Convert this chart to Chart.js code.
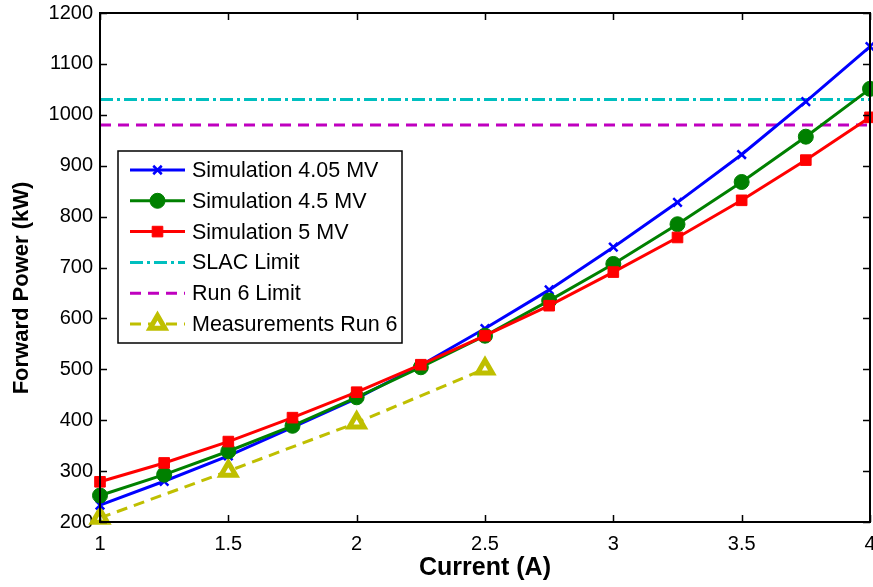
<!DOCTYPE html>
<html>
<head>
<meta charset="utf-8">
<script src="https://cdn.jsdelivr.net/npm/chart.js@4/dist/chart.umd.min.js"></script>
<style>
  html, body { margin: 0; padding: 0; background: #fff; }
  #wrap { width: 873px; height: 587px; }
</style>
</head>
<body>
<div id="wrap"><canvas id="powerChart" width="873" height="587"></canvas></div>
<script>
// beam current (A)
var current = [1, 1.25, 1.5, 1.75, 2, 2.25, 2.5, 2.75, 3, 3.25, 3.5, 3.75, 4];
// forward power (kW) for each cavity voltage
var sim405 = [233, 280, 330, 386, 443, 508, 580, 656, 740, 828, 922, 1026, 1134];
var sim45 = [252, 293, 339, 389, 445, 504, 566, 635, 707, 785, 868, 957, 1051];
var sim5 = [279, 316, 358, 405, 455, 509, 566, 625, 691, 759, 832, 911, 995];
// measured points
var measCurrent = [1, 1.5, 2, 2.5];
var measPower = [208, 300, 395, 501];
// limits (kW)
var slacLimit = 1030;
var run6Limit = 980;
var limitRange = [1, 4];

var xTicks = [1, 1.5, 2, 2.5, 3, 3.5, 4];
var yTicks = [200, 300, 400, 500, 600, 700, 800, 900, 1000, 1100, 1200];
var yTitle = "Forward Power (kW)";

var FONT = "'Liberation Sans', Arial, Helvetica, sans-serif";

function pts(xs, ys) {
  return xs.map(function (x, i) { return { x: x, y: ys[i] }; });
}

// inward tick marks and the box around the plot, matlab style
var boxPlugin = {
  id: "box",
  afterDatasetsDraw: function (chart) {
    var ctx = chart.ctx, a = chart.chartArea;
    var xs = chart.scales.x, ys = chart.scales.y;
    var len = 7;
    ctx.save();
    ctx.strokeStyle = "#000";
    ctx.lineWidth = 1.5;
    ctx.beginPath();
    xTicks.forEach(function (t) {
      var px = Math.round(xs.getPixelForValue(t)) + 0.5;
      ctx.moveTo(px, a.bottom); ctx.lineTo(px, a.bottom - len);
      ctx.moveTo(px, a.top); ctx.lineTo(px, a.top + len);
    });
    yTicks.forEach(function (t) {
      var py = Math.round(ys.getPixelForValue(t)) + 0.5;
      ctx.moveTo(a.left, py); ctx.lineTo(a.left + len, py);
      ctx.moveTo(a.right, py); ctx.lineTo(a.right - len, py);
    });
    ctx.stroke();
    ctx.lineWidth = 2;
    ctx.strokeRect(a.left, a.top, a.right - a.left, a.bottom - a.top);

    // rotated y title, sitting a little below the middle of the axis
    ctx.translate(22, a.top + 275);
    ctx.rotate(-Math.PI / 2);
    ctx.fillStyle = "#000";
    ctx.font = "bold 22px " + FONT;
    ctx.textAlign = "center";
    ctx.textBaseline = "middle";
    ctx.fillText(yTitle, 0, 0);
    ctx.restore();
  }
};

// legend box drawn inside the plot area
var legendPlugin = {
  id: "innerLegend",
  afterDraw: function (chart) {
    var ctx = chart.ctx, a = chart.chartArea;
    var x0 = a.left + 18, y0 = a.top + 138, w = 284, h = 192;
    ctx.save();
    ctx.fillStyle = "#fff";
    ctx.fillRect(x0, y0, w, h);
    ctx.strokeStyle = "#000";
    ctx.lineWidth = 1.5;
    ctx.strokeRect(x0, y0, w, h);
    var rowH = 30.8;
    chart.data.datasets.forEach(function (ds, i) {
      var cy = y0 + 19 + i * rowH;
      ctx.strokeStyle = ds.borderColor;
      ctx.lineWidth = ds.borderWidth;
      ctx.setLineDash(ds.borderDash || []);
      ctx.beginPath();
      ctx.moveTo(x0 + 12, cy);
      ctx.lineTo(x0 + 67, cy);
      ctx.stroke();
      ctx.setLineDash([]);
      if (ds.pointRadius > 0) {
        ctx.fillStyle = ds.pointBackgroundColor;
        ctx.strokeStyle = ds.borderColor;
        ctx.lineWidth = ds.pointBorderWidth;
        Chart.helpers.drawPoint(ctx, {
          pointStyle: ds.pointStyle,
          radius: ds.pointRadius,
          rotation: 0,
          borderWidth: ds.pointBorderWidth
        }, x0 + 39.5, cy);
      }
      ctx.fillStyle = "#000";
      ctx.font = "21.5px " + FONT;
      ctx.textBaseline = "middle";
      ctx.fillText(ds.label, x0 + 74, cy + 1);
    });
    ctx.restore();
  }
};

new Chart(document.getElementById("powerChart"), {
  type: "scatter",
  data: {
    datasets: [
      {
        label: "Simulation 4.05 MV",
        data: pts(current, sim405),
        showLine: true,
        borderColor: "#0000ff",
        backgroundColor: "#0000ff",
        pointBackgroundColor: "#0000ff",
        borderWidth: 3,
        pointStyle: "crossRot",
        pointRadius: 6,
        pointBorderWidth: 2.5,
        clip: false,
        order: 3
      },
      {
        label: "Simulation 4.5 MV",
        data: pts(current, sim45),
        showLine: true,
        borderColor: "#008000",
        backgroundColor: "#008000",
        pointBackgroundColor: "#008000",
        borderWidth: 3,
        pointStyle: "circle",
        pointRadius: 7.5,
        pointBorderWidth: 1,
        clip: false,
        order: 2
      },
      {
        label: "Simulation 5 MV",
        data: pts(current, sim5),
        showLine: true,
        borderColor: "#ff0000",
        backgroundColor: "#ff0000",
        pointBackgroundColor: "#ff0000",
        borderWidth: 3,
        pointStyle: "rect",
        pointRadius: 7.5,
        pointBorderWidth: 1,
        clip: false,
        order: 1
      },
      {
        label: "SLAC Limit",
        data: pts(limitRange, [slacLimit, slacLimit]),
        showLine: true,
        borderColor: "#00bfbf",
        borderWidth: 3,
        borderDash: [13, 4, 3, 4],
        pointRadius: 0,
        order: 4
      },
      {
        label: "Run 6 Limit",
        data: pts(limitRange, [run6Limit, run6Limit]),
        showLine: true,
        borderColor: "#bf00bf",
        borderWidth: 3,
        borderDash: [11, 7],
        pointRadius: 0,
        order: 5
      },
      {
        label: "Measurements Run 6",
        data: pts(measCurrent, measPower),
        showLine: true,
        borderColor: "#bfbf00",
        backgroundColor: "#ffffff",
        pointBackgroundColor: "#ffffff",
        borderWidth: 3,
        borderDash: [11, 7],
        pointStyle: "triangle",
        pointRadius: 8.5,
        pointBorderWidth: 5,
        clip: false,
        order: 6
      }
    ]
  },
  options: {
    responsive: false,
    animation: false,
    events: [],
    layout: { autoPadding: false, padding: { top: 13, right: 3, left: 0, bottom: 0 } },
    plugins: {
      legend: { display: false },
      tooltip: { enabled: false }
    },
    scales: {
      x: {
        type: "linear",
        min: 1,
        max: 4,
        grid: { display: false, drawTicks: false },
        border: { display: false },
        afterBuildTicks: function (s) { s.ticks = xTicks.map(function (v) { return { value: v }; }); },
        afterFit: function (s) { s.height = 65; s.paddingLeft = 0; s.paddingRight = 0; },
        ticks: {
          color: "#000",
          padding: 10,
          maxRotation: 0,
          font: { family: FONT, size: 20 },
          callback: function (v) { return String(v); }
        },
        title: {
          display: true,
          text: "Current (A)",
          color: "#000",
          padding: { top: 0, bottom: 4 },
          font: { family: FONT, size: 25, weight: "bold" }
        }
      },
      y: {
        type: "linear",
        min: 200,
        max: 1200,
        grid: { display: false, drawTicks: false },
        border: { display: false },
        afterBuildTicks: function (s) { s.ticks = yTicks.map(function (v) { return { value: v }; }); },
        afterFit: function (s) { s.width = 100; s.paddingTop = 0; s.paddingBottom = 0; },
        ticks: {
          color: "#000",
          padding: 7,
          font: { family: FONT, size: 20 },
          callback: function (v) { return String(v); }
        },
        title: { display: false }
      }
    }
  },
  plugins: [boxPlugin, legendPlugin]
});
</script>
</body>
</html>
